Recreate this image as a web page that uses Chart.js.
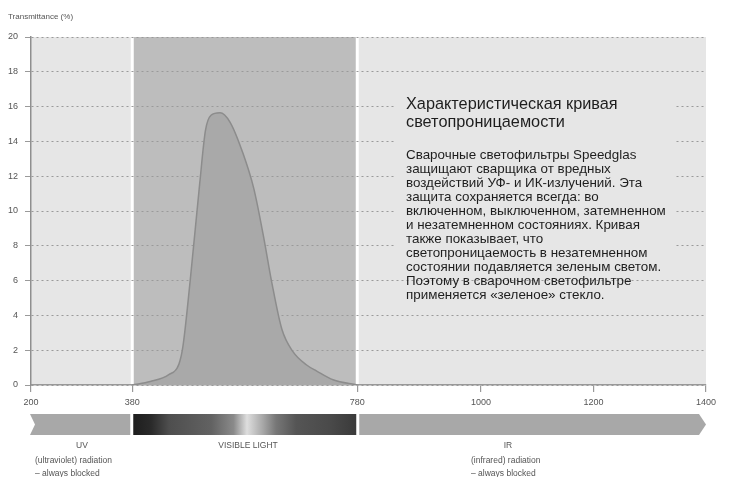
<!DOCTYPE html>
<html>
<head>
<meta charset="utf-8">
<script src="https://cdn.jsdelivr.net/npm/chart.js@4.4.1/dist/chart.umd.min.js"></script>
<style>
  html, body { margin: 0; padding: 0; background: #ffffff; }
  #wrap { width: 735px; height: 477px; position: relative; }
</style>
</head>
<body>
<div id="wrap"><canvas id="c" width="735" height="477"></canvas></div>
<script>
// ---- data ----
const wavelengths = [380, 412, 445, 463, 470, 483, 500, 510, 520, 536, 554, 577, 596, 613, 628, 646, 666, 690, 708, 737, 780];
const transmittance = [0, 0.2, 0.6, 1.2, 2.2, 6.0, 11.6, 14.6, 15.5, 15.65, 15.1, 13.3, 11.3, 8.6, 5.9, 3.2, 1.9, 1.15, 0.8, 0.3, 0];
const xTickValues = [200, 380, 780, 1000, 1200, 1400];
const yLabel = "Transmittance (%)";
const boxTitle = ["Характеристическая кривая", "светопроницаемости"];
const boxBody = [
  "Сварочные светофильтры Speedglas",
  "защищают сварщика от вредных",
  "воздействий УФ- и ИК-излучений. Эта",
  "защита сохраняется всегда: во",
  "включенном, выключенном, затемненном",
  "и незатемненном состояниях. Кривая",
  "также показывает, что",
  "светопроницаемость в незатемненном",
  "состоянии подавляется зеленым светом.",
  "Поэтому в сварочном светофильтре",
  "применяется «зеленое» стекло."
];
const bandNames = ["UV", "VISIBLE LIGHT", "IR"];
const uvNotes = ["(ultraviolet) radiation", "– always blocked"];
const irNotes = ["(infrared) radiation", "– always blocked"];
const visibleRange = [380, 780];

const FONT = "'Liberation Sans', Arial, sans-serif";

const points = wavelengths.map((w, i) => ({ x: w, y: transmittance[i] }));

const decor = {
  id: 'decor',
  beforeDraw(chart) {
    const { ctx, chartArea: a, scales: { x } } = chart;
    ctx.save();
    ctx.fillStyle = '#ffffff';
    ctx.fillRect(0, 0, chart.width, chart.height);
    ctx.fillStyle = '#e6e6e6';
    ctx.fillRect(a.left, a.top, a.right - a.left, a.bottom - a.top);
    const x1 = x.getPixelForValue(visibleRange[0]);
    const x2 = x.getPixelForValue(visibleRange[1]);
    ctx.fillStyle = '#bdbdbd';
    ctx.fillRect(x1, a.top, x2 - x1, a.bottom - a.top);
    ctx.fillStyle = '#ffffff';
    ctx.fillRect(x1 - 1.5, a.top, 3, a.bottom - a.top);
    ctx.fillRect(x2 - 1.5, a.top, 3, a.bottom - a.top);
    // y label
    ctx.fillStyle = '#555';
    ctx.font = '8px ' + FONT;
    ctx.textBaseline = 'middle';
    ctx.textAlign = 'left';
    ctx.fillText(yLabel, 8, 17);
    ctx.restore();
  },
  afterDatasetsDraw(chart) {
    const { ctx, scales: { x } } = chart;
    ctx.save();
    // text box
    ctx.fillStyle = '#e6e6e6';
    ctx.fillRect(395, 86, 280, 184);
    ctx.fillStyle = '#1e1e1e';
    ctx.textAlign = 'left';
    ctx.textBaseline = 'middle';
    ctx.font = '16.3px ' + FONT;
    boxTitle.forEach((t, i) => ctx.fillText(t, 406, 105 + i * 18));
    ctx.font = '13.4px ' + FONT;
    boxBody.forEach((t, i) => ctx.fillText(t, 406, 155 + i * 14));

    // spectrum bands
    const p200 = x.getPixelForValue(200);
    const p380 = x.getPixelForValue(visibleRange[0]);
    const p780 = x.getPixelForValue(visibleRange[1]);
    const p1400 = x.getPixelForValue(1400);
    const top = 414, bot = 435, mid = (top + bot) / 2;
    ctx.fillStyle = '#a8a8a8';
    ctx.beginPath();
    ctx.moveTo(p200 - 1, top);
    ctx.lineTo(p380 - 2, top);
    ctx.lineTo(p380 - 2, bot);
    ctx.lineTo(p200 - 1, bot);
    ctx.lineTo(p200 + 4, mid);
    ctx.closePath();
    ctx.fill();
    ctx.beginPath();
    ctx.moveTo(p780 + 2, top);
    ctx.lineTo(p1400 - 7, top);
    ctx.lineTo(p1400, mid);
    ctx.lineTo(p1400 - 7, bot);
    ctx.lineTo(p780 + 2, bot);
    ctx.closePath();
    ctx.fill();
    const g = ctx.createLinearGradient(p380 + 1, 0, p780 - 1, 0);
    g.addColorStop(0, '#1e1e1e');
    g.addColorStop(0.08, '#2a2a2a');
    g.addColorStop(0.16, '#4e4e4e');
    g.addColorStop(0.35, '#626262');
    g.addColorStop(0.45, '#8a8a8a');
    g.addColorStop(0.51, '#dedede');
    g.addColorStop(0.58, '#a8a8a8');
    g.addColorStop(0.64, '#777777');
    g.addColorStop(0.73, '#555555');
    g.addColorStop(0.88, '#4a4a4a');
    g.addColorStop(1, '#3a3a3a');
    ctx.fillStyle = g;
    ctx.fillRect(p380 + 1, top, (p780 - 1) - (p380 + 1), bot - top);

    ctx.fillStyle = '#555';
    ctx.textAlign = 'center';
    ctx.font = '8.5px ' + FONT;
    ctx.fillText(bandNames[0], 82, 446);
    ctx.fillText(bandNames[1], 248, 446);
    ctx.fillText(bandNames[2], 508, 446);
    ctx.textAlign = 'left';
    uvNotes.forEach((t, i) => ctx.fillText(t, 35, 461 + i * 13));
    irNotes.forEach((t, i) => ctx.fillText(t, 471, 461 + i * 13));
    ctx.restore();
  }
};

new Chart(document.getElementById('c'), {
  type: 'line',
  data: {
    datasets: [{
      data: points,
      borderColor: '#8c8c8c',
      borderWidth: 1.5,
      backgroundColor: '#a9a9a9',
      fill: 'origin',
      pointRadius: 0,
      cubicInterpolationMode: 'monotone'
    }]
  },
  options: {
    responsive: false,
    animation: false,
    devicePixelRatio: 1,
    layout: { padding: { top: 37, right: 29, left: 0, bottom: 0 } },
    plugins: { legend: { display: false }, tooltip: { enabled: false } },
    scales: {
      x: {
        type: 'linear',
        min: 200,
        max: 1400,
        afterBuildTicks(scale) { scale.ticks = xTickValues.map(v => ({ value: v })); },
        afterFit(scale) { scale.height = 92; },
        grid: { drawOnChartArea: false, drawTicks: true, tickLength: 7, color: '#999', lineWidth: 1.2 },
        border: { display: true, color: '#999', width: 1.5 },
        ticks: { color: '#555', font: { family: FONT, size: 9 }, padding: 5, maxRotation: 0, autoSkip: false,
                 callback: (v) => String(v) }
      },
      y: {
        min: 0,
        max: 20,
        afterFit(scale) { scale.width = 31; },
        ticks: { stepSize: 2, color: '#555', font: { family: FONT, size: 9 }, padding: 7 },
        grid: { color: '#9a9a9a', lineWidth: 1, tickLength: 6, tickBorderDash: [], tickColor: '#9a9a9a' },
        border: { display: true, color: '#8f8f8f', width: 1.5, dash: [2, 3] }
      }
    }
  },
  plugins: [decor]
});
</script>
</body>
</html>
